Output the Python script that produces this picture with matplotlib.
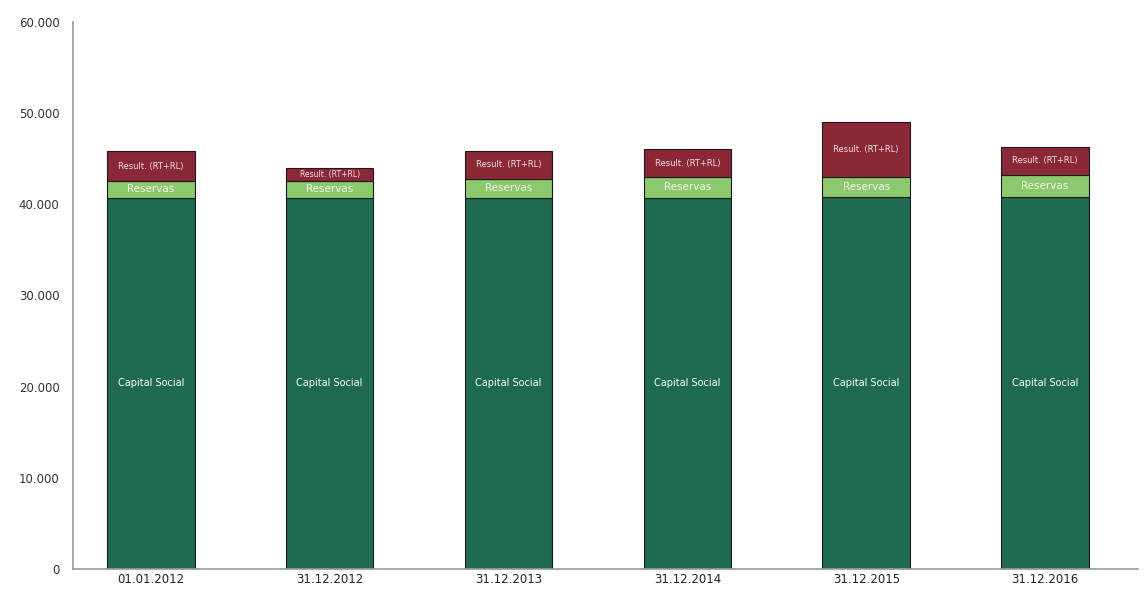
import matplotlib
matplotlib.use("Agg")
import matplotlib.pyplot as plt
from matplotlib.ticker import FuncFormatter

dates = ["01.01.2012", "31.12.2012", "31.12.2013", "31.12.2014", "31.12.2015", "31.12.2016"]
capital_social = [40700, 40700, 40700, 40700, 40800, 40800]
reservas = [1850, 1900, 2100, 2300, 2200, 2400]
resultado = [3250, 1400, 3050, 3050, 6000, 3100]

C_CAP = "#1e6a4f"
C_RES = "#8cc96e"
C_RTL = "#8a2838"

fig = plt.figure(figsize=(11.45, 5.93), dpi=100)
ax = fig.add_axes([0.064, 0.0405, 0.93, 0.9225])

x = list(range(len(dates)))
w = 0.49
edge = dict(edgecolor="#1a1a1a", linewidth=0.8)
ax.bar(x, capital_social, w, color=C_CAP, **edge)
bot2 = capital_social
ax.bar(x, reservas, w, bottom=bot2, color=C_RES, **edge)
bot3 = [a + b for a, b in zip(capital_social, reservas)]
ax.bar(x, resultado, w, bottom=bot3, color=C_RTL, **edge)

for i in x:
    ax.text(i, capital_social[i] / 2, "Capital Social", color="white",
            ha="center", va="center", fontsize=7)
    ax.text(i, bot2[i] + reservas[i] / 2, "Reservas", color="#eef7e6",
            ha="center", va="center", fontsize=7.5)
    fs = 5.5 if resultado[i] < 2000 else 6
    ax.text(i, bot3[i] + resultado[i] / 2, "Result. (RT+RL)", color="#f4dfe3",
            ha="center", va="center", fontsize=fs)

ax.set_xlim(-0.433, 5.52)
ax.set_ylim(0, 60000)
ax.set_yticks(range(0, 60001, 10000))
ax.yaxis.set_major_formatter(FuncFormatter(lambda v, p: f"{int(v):,}".replace(",", ".")))
ax.set_xticks(x)
ax.set_xticklabels(dates)
ax.tick_params(axis="y", length=0, pad=10, labelsize=8.5, labelcolor="#333333")
ax.tick_params(axis="x", length=0, pad=3, labelsize=8.5, labelcolor="#222222")

for s in ("top", "right"):
    ax.spines[s].set_visible(False)
ax.spines["left"].set_color("#999999")
ax.spines["bottom"].set_color("#999999")
ax.spines["left"].set_linewidth(1.2)
ax.spines["bottom"].set_linewidth(1.2)

fig.savefig("out.png", dpi=100)
plt.close(fig)
